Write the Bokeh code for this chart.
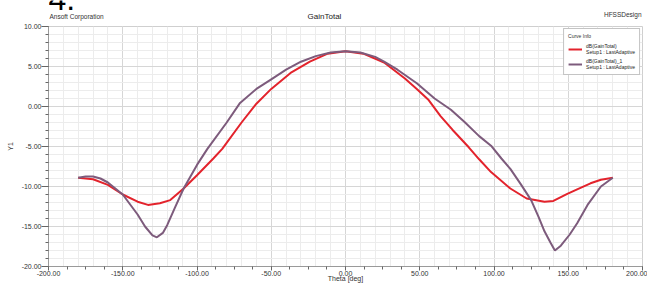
from bokeh.plotting import figure
from bokeh.layouts import column
from bokeh.models import (FixedTicker, PrintfTickFormatter, Label, Legend, LegendItem, Plot, Range1d)
from bokeh.embed import file_html
from bokeh.resources import INLINE

# ---- data ----
theta_red = [-180, -170, -160, -150, -140, -133, -125, -118, -109, -100, -89, -83, -70, -60, -50, -37, -24, -12,
             0, 12, 26, 40, 48, 56, 64, 72, 83, 90, 98, 111, 122, 134, 140, 149, 156, 165, 172, 180]
gain_red = [-8.9, -9.1, -9.8, -11.0, -11.9, -12.3, -12.1, -11.7, -10.25, -8.6, -6.5, -5.3, -2.0, 0.35, 2.2, 4.2, 5.6, 6.6,
            6.9, 6.6, 5.5, 3.5, 2.2, 0.8, -1.2, -2.9, -5.1, -6.6, -8.2, -10.25, -11.5, -11.9, -11.8, -10.95, -10.35, -9.6, -9.15, -8.9]

theta_purple = [-180, -175, -170, -165, -160, -150, -140, -135, -130, -127, -123, -120, -115, -109, -100, -93, -80, -71,
                -60, -50, -40, -30, -20, -10, 0, 10, 20, 26, 35, 48, 60, 71, 80, 90, 98, 105, 111, 118, 125, 130,
                134, 138, 141, 145, 151, 156, 163, 172, 180]
gain_purple = [-8.9, -8.75, -8.75, -9.0, -9.5, -11.0, -13.5, -15.0, -16.1, -16.35, -15.8, -14.8, -12.7, -10.25, -7.3, -5.3,
               -2.0, 0.45, 2.2, 3.4, 4.6, 5.6, 6.3, 6.75, 6.9, 6.75, 6.2, 5.6, 4.6, 2.9, 1.0, -0.4, -1.9, -3.7, -4.9,
               -6.5, -7.8, -9.7, -11.7, -13.8, -15.6, -17.0, -18.0, -17.4, -16.0, -14.6, -12.3, -10.0, -8.9]

x_major = [-200, -150, -100, -50, 0, 50, 100, 150, 200]
x_minor_ticks = [-200 + 12.5 * i for i in range(33)]
x_grid_minor = list(range(-200, 201, 10))
y_major = [-20, -15, -10, -5, 0, 5, 10]
y_minor = list(range(-20, 11))

series_names = ["dB(GainTotal)", "dB(GainTotal)_1"]
setup_name = "Setup1 : LastAdaptive"
plot_title = "GainTotal"
x_title = "Theta [deg]"
y_title = "Y1"
company = "Ansoft Corporation"
design = "HFSSDesign"
fig_number = "4."

FONT = "Liberation Sans"
RED = "#e3232c"
PURPLE = "#7d5b7c"
W = 647
TOP_H = 21
BORDER_L = 48
BORDER_R = 5

# ---- header strip (texts above the plot frame) ----
# its frame is aligned by the column with the main plot's frame, so map page pixels onto that span
head = Plot(width=W, height=TOP_H, output_backend="svg", toolbar_location=None, title=None,
            x_range=Range1d(BORDER_L, W - BORDER_R), y_range=Range1d(TOP_H, 0),
            min_border=0, min_border_left=0, min_border_right=0, min_border_top=0, min_border_bottom=0,
            outline_line_color=None, background_fill_color=None, border_fill_color=None)
head.add_layout(Label(x=324, y=16, text=plot_title, text_align="center", text_baseline="middle",
                      text_font=FONT, text_font_size="8px", text_color="#222222"))
head.add_layout(Label(x=BORDER_L + 1, y=16, text=company, text_align="left", text_baseline="middle",
                      text_font=FONT, text_font_size="6.5px", text_color="#333333"))
head.add_layout(Label(x=W - BORDER_R - 1, y=14, text=design, text_align="right", text_baseline="middle",
                      text_font=FONT, text_font_size="6.5px", text_color="#333333"))
head.add_layout(Label(x=BORDER_L, y=-2, text=fig_number, text_align="left", text_baseline="middle",
                      text_font=FONT, text_font_size="32px", text_color="#000000"))

# ---- main plot ----
p = figure(width=W, height=284 - TOP_H, output_backend="svg", toolbar_location=None, title=None,
           x_range=(-200, 200), y_range=(-20, 10),
           min_border_left=BORDER_L, min_border_right=BORDER_R, min_border_top=5, min_border_bottom=15)

p.outline_line_color = "#cfcfcf"

for ax in (p.xaxis[0], p.yaxis[0]):
    ax.formatter = PrintfTickFormatter(format="%.2f")
    ax.major_label_text_font = FONT
    ax.major_label_text_font_size = "7px"
    ax.major_label_text_color = "#333333"
    ax.axis_line_color = "#9a9a9a"
    ax.major_tick_line_color = "#666666"
    ax.minor_tick_line_color = "#666666"
    ax.major_tick_in = 0
    ax.minor_tick_in = 0
    ax.axis_label_text_font = FONT
    ax.axis_label_text_font_size = "7px"
    ax.axis_label_text_font_style = "normal"
    ax.axis_label_text_color = "#333333"

p.yaxis.major_tick_out = 7
p.yaxis.minor_tick_out = 3
p.yaxis.major_label_standoff = 0
p.yaxis.axis_label = y_title
p.yaxis.axis_label_standoff = 5
p.xaxis.major_tick_out = 4
p.xaxis.minor_tick_out = 3
p.xaxis.major_label_standoff = 0
p.xaxis.axis_label = x_title
p.xaxis.axis_label_standoff = -4

p.xaxis.ticker = FixedTicker(ticks=x_major, minor_ticks=x_minor_ticks)
p.yaxis.ticker = FixedTicker(ticks=y_major, minor_ticks=y_minor)

p.xgrid.ticker = FixedTicker(ticks=x_major, minor_ticks=x_grid_minor)
p.ygrid.ticker = FixedTicker(ticks=y_major, minor_ticks=y_minor)
for g in (p.xgrid[0], p.ygrid[0]):
    g.grid_line_color = "#d6d6d6"
    g.grid_line_width = 1
    g.minor_grid_line_color = "#ececec"
    g.minor_grid_line_width = 1

r1 = p.line(theta_red, gain_red, line_color=RED, line_width=2)
r2 = p.line(theta_purple, gain_purple, line_color=PURPLE, line_width=2)

legend = Legend(items=[LegendItem(label=series_names[0] + "\n" + setup_name, renderers=[r1]),
                       LegendItem(label=series_names[1] + "\n" + setup_name, renderers=[r2])],
                location="top_right", title="Curve Info")
legend.title_text_font = FONT
legend.title_text_font_size = "5px"
legend.title_text_font_style = "normal"
legend.title_text_color = "#333333"
legend.title_standoff = 4
legend.label_text_font = FONT
legend.label_text_font_size = "5px"
legend.label_text_color = "#222222"
legend.label_height = 12
legend.glyph_height = 10
legend.glyph_width = 14
legend.label_standoff = 4
legend.spacing = 3
legend.padding = 4
legend.margin = 2
legend.border_line_color = "#8a8a8a"
legend.background_fill_alpha = 1
p.add_layout(legend)

layout = column(head, p, spacing=0)
open("out.html", "w").write(file_html(layout, INLINE))
